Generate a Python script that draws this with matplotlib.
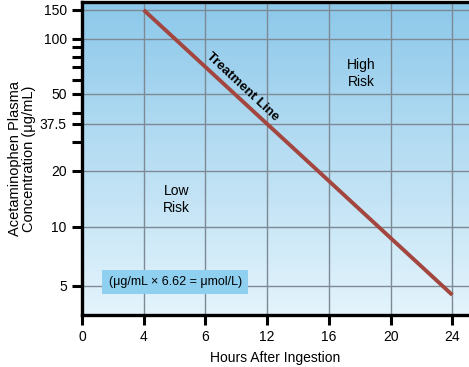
import numpy as np
import matplotlib
matplotlib.use("Agg")
import matplotlib.pyplot as plt
from matplotlib.colors import LinearSegmentedColormap
from matplotlib.ticker import NullFormatter, FixedLocator

plt.rcParams['font.family'] = ['Liberation Sans', 'DejaVu Sans']

# Data
hour_ticks = [0, 4, 6, 12, 16, 20, 24]
line_hours = [4, 24]
line_conc = [150, 4.5]
y_major = [5, 10, 20, 37.5, 50, 100, 150]
y_major_labels = ["5", "10", "20", "37.5", "50", "100", "150"]
y_minor = [29.6, 41.5, 60, 70, 80, 90]

# nomogram's printed scale (log10 value -> relative height), as measured
knot_L = np.log10(np.array([5, 10, 20, 37.5, 50, 100, 150]))
knot_h = np.array([0, 59, 115, 162, 192, 247, 276], dtype=float)
slope_lo = (knot_h[1] - knot_h[0]) / (knot_L[1] - knot_L[0])
slope_hi = (knot_h[-1] - knot_h[-2]) / (knot_L[-1] - knot_L[-2])


def fwd(v):
    L = np.log10(np.clip(np.asarray(v, dtype=float), 1e-9, None))
    out = np.interp(L, knot_L, knot_h)
    out = np.where(L < knot_L[0], knot_h[0] + (L - knot_L[0]) * slope_lo, out)
    out = np.where(L > knot_L[-1], knot_h[-1] + (L - knot_L[-1]) * slope_hi, out)
    return out


def inv(h):
    h = np.asarray(h, dtype=float)
    L = np.interp(h, knot_h, knot_L)
    L = np.where(h < knot_h[0], knot_L[0] + (h - knot_h[0]) / slope_lo, L)
    L = np.where(h > knot_h[-1], knot_L[-1] + (h - knot_h[-1]) / slope_hi, L)
    return 10 ** L


pos = {h: i for i, h in enumerate(hour_ticks)}

fig = plt.figure(figsize=(4.69, 3.67), dpi=100)
ax = fig.add_axes([0.1748, 0.1417, 0.8252, 0.8529])
ax.set_yscale('function', functions=(fwd, inv))
ax.set_xlim(0, 6.27)
ax.set_ylim(inv(-29), inv(284))

cmap = LinearSegmentedColormap.from_list('bg', ['#8cc8ea', '#e4f4fc'])
grad = np.linspace(0, 1, 256).reshape(-1, 1)
ax.imshow(grad, cmap=cmap, aspect='auto', extent=[0, 1, 0, 1],
          transform=ax.transAxes, zorder=0)

for h in hour_ticks[1:]:
    ax.axvline(pos[h], color='#7d8a95', lw=1.0, zorder=1)
for v in y_major:
    ax.axhline(v, color='#7d8a95', lw=1.0, zorder=1)

ax.plot([pos[h] for h in line_hours], line_conc, color='#a3463f', lw=2.8,
        solid_capstyle='butt', zorder=3)

ax.set_xticks([pos[h] for h in hour_ticks])
ax.set_xticklabels([str(h) for h in hour_ticks])
ax.yaxis.set_major_locator(FixedLocator(y_major))
ax.set_yticklabels(y_major_labels)
ax.yaxis.set_minor_locator(FixedLocator(y_minor))
ax.yaxis.set_minor_formatter(NullFormatter())
ax.tick_params(axis='both', which='both', direction='out', length=7, width=2.2,
               labelsize=10, color='black', pad=4)

for s in ['left', 'bottom', 'top']:
    ax.spines[s].set_linewidth(2.4)
    ax.spines[s].set_color('black')
ax.spines['right'].set_visible(False)

ax.set_xlabel('Hours After Ingestion', fontsize=10, labelpad=5)
ax.set_ylabel('Acetaminophen Plasma\nConcentration (\u03bcg/mL)', fontsize=10.5,
              labelpad=3, linespacing=1.0)

ax.text(4.52, 65, 'High\nRisk', fontsize=10, ha='center', va='center', linespacing=1.25, zorder=4)
ax.text(1.53, 14.0, 'Low\nRisk', fontsize=10, ha='center', va='center', linespacing=1.25, zorder=4)
ax.text(2.6, 55, 'Treatment Line', fontsize=9.5, fontweight='bold', rotation=-43,
        rotation_mode='anchor', ha='center', va='center', zorder=4)
ax.text(1.51, 5.25, '(\u03bcg/mL \u00d7 6.62 = \u03bcmol/L)', fontsize=9, ha='center', va='center',
        zorder=5, bbox=dict(boxstyle='square,pad=0.5', fc='#8fd0f0', ec='none'))

fig.savefig('out.png', dpi=100)
